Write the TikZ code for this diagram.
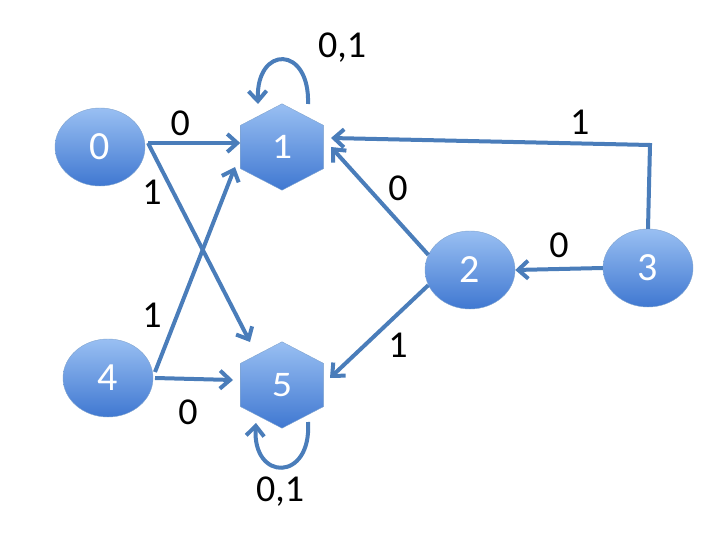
\documentclass[tikz,border=0pt]{standalone}
\usepackage{fontspec}
\setmainfont{Carlito}
\usetikzlibrary{shapes.geometric,arrows.meta}
\definecolor{edgecol}{rgb}{0.29,0.49,0.73}
\definecolor{toptop}{rgb}{0.60,0.75,0.95}
\definecolor{botbot}{rgb}{0.25,0.47,0.82}
\tikzset{
  state/.style={ellipse,minimum width=90pt,minimum height=78pt,draw=edgecol!70,
    top color=toptop,bottom color=botbot,text=white,font=\fontsize{40}{40}\selectfont,inner sep=0pt},
  hexstate/.style={regular polygon,regular polygon sides=6,shape border rotate=30,minimum size=96pt,
    draw=edgecol!70,top color=toptop,bottom color=botbot,text=white,font=\fontsize{40}{40}\selectfont,
    inner sep=0pt,xscale=1,yscale=0.9},
  trans/.style={draw=edgecol,line width=4pt,-{Straight Barb[length=10pt,width=18pt,line width=4pt]}},
  lbl/.style={font=\fontsize{38}{38}\selectfont,text=black}
}
\begin{document}
\begin{tikzpicture}[x=1pt,y=-1pt]
\useasboundingbox (0,0) rectangle (720,540);
%%
  % Nodes
  \node[state] (n0) at (100,147) {0};
  \node[hexstate] (n1) at (282,147) {1};
  \node[state] (n2) at (470,270) {2};
  \node[state] (n3) at (648,268) {3};
  \node[state] (n4) at (108,378) {4};
  \node[hexstate] (n5) at (282,385) {5};
  \coordinate (c3) at (650,145);
  % Edges
  \draw[trans] (148,143) -- (n1.west |- 0,143) node[lbl,pos=0.35,above=2pt] {0};
  \draw[trans] (148,143) -- (250,342);
  \node[lbl] at (152,192) {1};
  \draw[trans] (155,372) -- (235,167);
  \node[lbl] at (152,315) {1};
  \draw[trans] (155,378) -- (233,380);
  \node[lbl] at (188,412) {0};
  \draw[trans] (n2.160) -- (331,147);
  \node[lbl] at (398,188) {0};
  \draw[trans] (n2.200) -- (330,378);
  \node[lbl] at (398,345) {1};
  \draw[trans] (n3.west) -- (n2.east) node[lbl,midway,above=6pt] {0};
  \draw[trans] (n3.north) -- (c3) -- (331,138) node[lbl,pos=0.22,above=4pt] {1};
  % Loops
  \draw[trans] (308,104) .. controls (310,45) and (256,45) .. (258,104);
  \node[lbl] at (342,48) {0,1};
  \draw[trans] (308,422) .. controls (312,482) and (252,482) .. (256,423);
  \node[lbl] at (280,492) {0,1};
%
\end{tikzpicture}
\end{document}
